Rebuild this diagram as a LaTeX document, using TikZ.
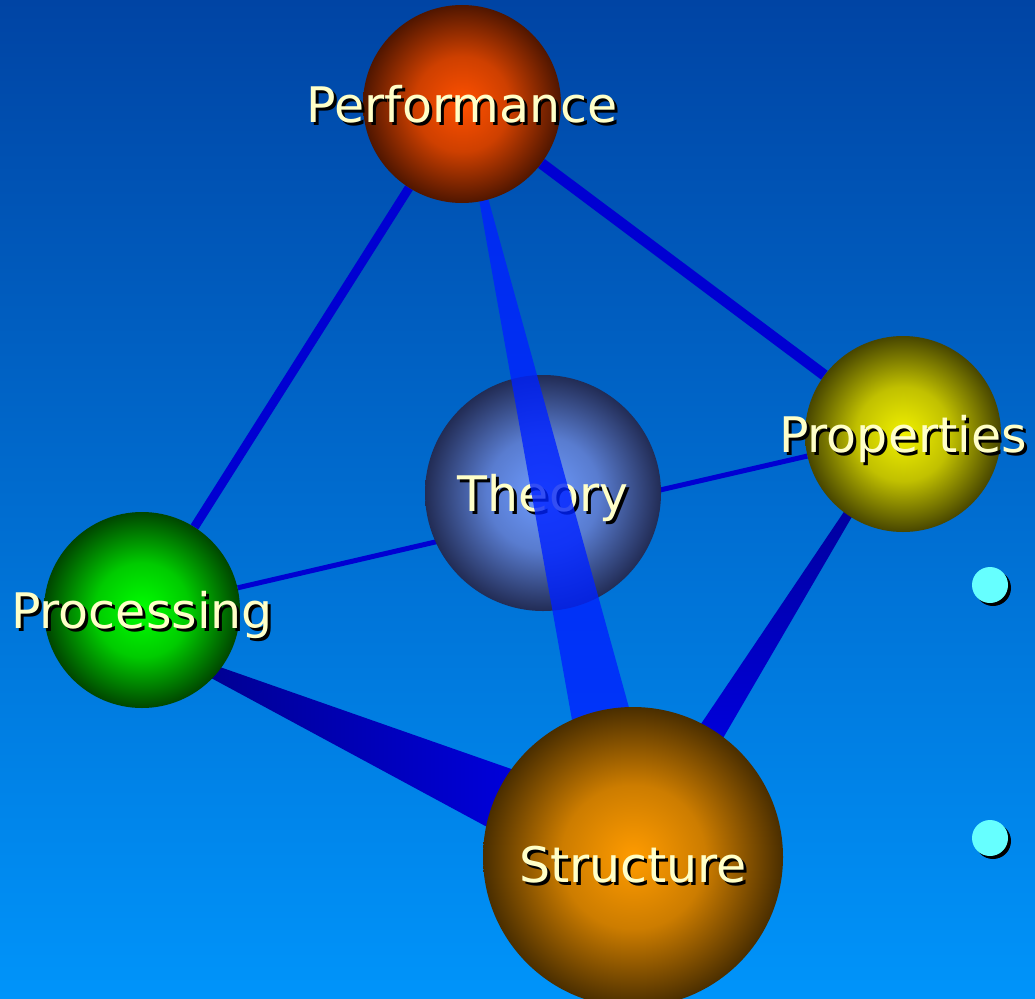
\documentclass[tikz,border=0pt]{standalone}
\usepackage{fontspec}
\setmainfont{DejaVu Sans}
\usetikzlibrary{positioning,calc,shadows}

\definecolor{skytop}{RGB}{0,68,164}
\definecolor{skybot}{RGB}{0,148,250}
\definecolor{rodblue}{RGB}{0,0,210}
\definecolor{rodlight}{RGB}{0,34,255}
\definecolor{rodnavy}{RGB}{0,0,130}
\definecolor{rodbright}{RGB}{0,0,250}
\definecolor{cream}{RGB}{255,255,200}
\definecolor{dotcyan}{RGB}{102,255,255}
\definecolor{perfin}{RGB}{255,80,0}
\definecolor{perfout}{RGB}{80,22,0}
\definecolor{propin}{RGB}{240,240,0}
\definecolor{propout}{RGB}{72,70,0}
\definecolor{procin}{RGB}{0,255,0}
\definecolor{procout}{RGB}{0,70,0}
\definecolor{thin}{RGB}{110,155,255}
\definecolor{thout}{RGB}{34,44,85}
\definecolor{strin}{RGB}{255,155,0}
\definecolor{strout}{RGB}{74,46,0}
\colorlet{orbin}{white}
\colorlet{orbout}{black}

% radial shading that stays bright a little longer before the rim
\pgfdeclareradialshading[orbin,orbout]{orb}{\pgfpoint{0bp}{0bp}}{%
  color(0bp)=(orbin);
  color(12bp)=(orbin!72!orbout);
  color(25bp)=(orbout);
  color(50bp)=(orbout)}

\pgfdeclarelayer{sky}
\pgfdeclarelayer{links}
\pgfdeclarelayer{front}
\pgfsetlayers{sky,links,main,front}

\newcommand\shadowed[1]{\makebox[0pt][l]{\hspace{3pt}\raisebox{-3pt}{\color{black}#1}}#1}

\begin{document}
\begin{tikzpicture}[x=1pt, y=-1pt,
    ball/.style={circle, inner sep=0pt, minimum size=#1},
    orb/.style args={#1 and #2}{/utils/exec={\colorlet{orbin}{#1}\colorlet{orbout}{#2}},
                                shade, shading=orb},
    rod/.style={draw=rodblue, line width=#1},
    tag/.style={text=cream, inner sep=0pt, text height=36pt, text depth=0pt,
                font=\fontsize{49}{52}\selectfont},
    dot/.style={circle, fill=dotcyan, minimum size=36pt, inner sep=0pt,
                drop shadow={shadow xshift=3pt, shadow yshift=-3pt, opacity=1, fill=black}}
    ]
    \begin{pgfonlayer}{sky}
    \shade[top color=skytop, bottom color=skybot] (0,0) rectangle (1035,998);
    \end{pgfonlayer}
    \useasboundingbox (0,0) rectangle (1035,998);

    % spheres in front
    \begin{pgfonlayer}{front}
    \node[ball=198pt, orb=perfin and perfout] (perf) at (462,104) {};
    \node[tag] (perf-txt) at (perf) {\shadowed{Performance}};
    \node[ball=300pt, orb=strin and strout] (str) at (633,857) {};
    \node[tag, yshift=-7pt] (str-txt) at (str) {\shadowed{Structure}};
    \end{pgfonlayer}

    \node[ball=196pt, orb=propin and propout] (prop) at (903,434) {};
    \node[tag] (prop-txt) at (prop) {\shadowed{Properties}};
    \node[ball=196pt, orb=procin and procout] (proc) at (142,610) {};
    \node[tag] (proc-txt) at (proc) {\shadowed{Processing}};
    \node[ball=236pt, orb=thin and thout] (theory) at (543,493) {};
    \node[tag] (theory-txt) at (theory) {\shadowed{Theory}};

    % see-through rod over Theory
    \fill[rodlight, opacity=0.8] (perf.center) -- ($(str)!36pt!90:(perf)$)
        -- ($(str)!36pt!-90:(perf)$) -- cycle;

    \node[dot] (dot1) at (990,585) {};
    \node[dot] (dot2) at (990,838) {};

    % rods behind the spheres
    \begin{pgfonlayer}{links}
    \draw[rod=9pt] (perf) -- (proc);
    \draw[rod=11pt] (perf) -- (prop);
    \draw[rod=5pt] (proc) -- ([yshift=-24pt]theory.center);
    \draw[rod=5pt] (prop) -- ([yshift=-24pt]theory.center);
    \coordinate (proc-tip) at ($(proc)+(-5,28)$);
    \coordinate (prop-tip) at ($(prop)+(21,-41)$);
    \shade[left color=rodnavy, right color=rodbright]
        (proc-tip) -- ($(str)!43pt!90:(proc-tip)$) -- ($(str)!43pt!-90:(proc-tip)$) -- cycle;
    \shade[top color=rodnavy, bottom color=rodbright]
        (prop-tip) -- ($(str)!18pt!90:(prop-tip)$) -- ($(str)!18pt!-90:(prop-tip)$) -- cycle;
    \end{pgfonlayer}
\end{tikzpicture}
\end{document}
